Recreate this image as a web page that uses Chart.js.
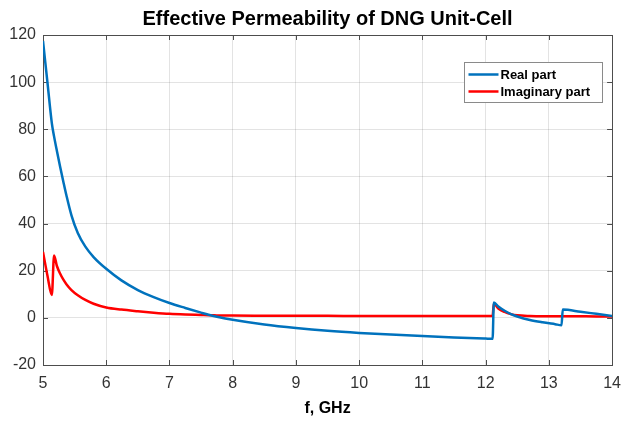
<!DOCTYPE html>
<html>
<head>
<meta charset="utf-8">
<script src="https://cdn.jsdelivr.net/npm/chart.js@4.4.1/dist/chart.umd.min.js"></script>
<style>
  html, body { margin: 0; padding: 0; background: #ffffff; }
  #wrap { width: 630px; height: 424px; position: relative; }
</style>
</head>
<body>
<div id="wrap"><canvas id="c" width="630" height="424"></canvas></div>
<script>
const chartTitle = "Effective Permeability of DNG Unit-Cell";
const xAxisTitle = "f, GHz";
const seriesNames = ["Real part", "Imaginary part"];

const freq = [5, 5.07, 5.14, 5.175, 5.22, 5.27, 5.32, 5.37, 5.45, 5.55, 5.67, 5.8, 6, 6.24, 6.5, 6.75, 7, 7.25, 7.5, 7.62, 7.75, 8, 8.5, 9, 9.5, 10, 10.5, 11, 11.5, 12, 12.11, 12.13, 12.2, 12.3, 12.4, 12.5, 12.7, 12.9, 13.1, 13.2, 13.22, 13.5, 13.75, 14];

const realPart = [117.5, 100, 82.5, 77, 70.8, 64.2, 58, 52, 43.5, 36, 30.2, 25.8, 20.8, 15.9, 11.8, 8.8, 6.3, 4.2, 2.2, 1.3, 0.5, -0.8, -2.8, -4.3, -5.5, -6.4, -7.1, -7.7, -8.3, -8.8, -8.9, 6.5, 4.8, 3, 1.6, 0.6, -0.9, -1.9, -2.7, -3.1, 3.5, 2.6, 1.7, 0.8];

const imagPart = [28, 18, 9.7, 26.5, 22, 18.8, 16.3, 14.3, 11.8, 9.6, 7.6, 6.0, 4.4, 3.5, 2.8, 2.2, 1.7, 1.4, 1.2, 1.1, 1.05, 0.95, 0.9, 0.85, 0.85, 0.8, 0.8, 0.8, 0.8, 0.8, 0.8, 6, 4, 2.5, 1.6, 1.1, 0.8, 0.7, 0.7, 0.7, 0.7, 0.65, 0.6, 0.6];

const xMin = 5, xMax = 14, xStep = 1;
const yMin = -20, yMax = 120, yStep = 20;

const colors = ["#0072BD", "#FF0000"];

function toPoints(ys) { return freq.map((f, i) => ({ x: f, y: ys[i] })); }

const framePlugin = {
  id: 'frame',
  beforeDatasetsDraw(chart) {
    const { ctx, chartArea: a, scales } = chart;
    ctx.save();
    ctx.strokeStyle = '#4d4d4d';
    ctx.lineWidth = 1;
    ctx.strokeRect(Math.round(a.left) + 0.5, Math.round(a.top) + 0.5, Math.round(a.right - a.left), Math.round(a.bottom - a.top));
    const tl = 5;
    ctx.beginPath();
    scales.x.ticks.forEach(t => {
      const px = Math.round(scales.x.getPixelForValue(t.value)) + 0.5;
      ctx.moveTo(px, a.bottom); ctx.lineTo(px, a.bottom - tl);
      ctx.moveTo(px, a.top); ctx.lineTo(px, a.top + tl);
    });
    scales.y.ticks.forEach(t => {
      const py = Math.round(scales.y.getPixelForValue(t.value)) + 0.5;
      ctx.moveTo(a.left, py); ctx.lineTo(a.left + tl, py);
      ctx.moveTo(a.right, py); ctx.lineTo(a.right - tl, py);
    });
    ctx.stroke();
    ctx.restore();
  },
  afterDraw(chart) {
    const { ctx, chartArea: a } = chart;
    ctx.save();
    ctx.fillStyle = '#000';
    ctx.font = 'bold 20px "Liberation Sans", Arial, sans-serif';
    ctx.textAlign = 'center';
    ctx.textBaseline = 'middle';
    ctx.fillText(chartTitle, (a.left + a.right) / 2, 19);
    const bw = 138, bh = 40;
    const bx = Math.round(a.right - 148) + 0.5, by = Math.round(a.top + 27) + 0.5;
    ctx.fillStyle = '#fff';
    ctx.fillRect(bx, by, bw, bh);
    ctx.strokeStyle = '#8a8a8a';
    ctx.lineWidth = 1;
    ctx.strokeRect(bx, by, bw, bh);
    ctx.font = 'bold 13px "Liberation Sans", Arial, sans-serif';
    ctx.textAlign = 'left';
    chart.data.datasets.forEach((ds, i) => {
      const ly = by + 12 + i * 17;
      ctx.strokeStyle = ds.borderColor;
      ctx.lineWidth = 2.5;
      ctx.beginPath();
      ctx.moveTo(bx + 4, ly); ctx.lineTo(bx + 34, ly);
      ctx.stroke();
      ctx.fillStyle = '#000';
      ctx.fillText(ds.label, bx + 36, ly + 1);
    });
    ctx.restore();
  }
};

new Chart(document.getElementById('c'), {
  type: 'line',
  data: {
    datasets: [
      { label: seriesNames[0], data: toPoints(realPart), borderColor: colors[0], backgroundColor: colors[0], borderWidth: 2.5, pointRadius: 0, cubicInterpolationMode: 'monotone', fill: false },
      { label: seriesNames[1], data: toPoints(imagPart), borderColor: colors[1], backgroundColor: colors[1], borderWidth: 2.5, pointRadius: 0, cubicInterpolationMode: 'monotone', fill: false }
    ]
  },
  options: {
    responsive: false,
    animation: false,
    devicePixelRatio: 1,
    layout: { padding: { top: 35, right: 8, bottom: 0, left: 0 } },
    plugins: { legend: { display: false }, title: { display: false }, tooltip: { enabled: false } },
    scales: {
      x: {
        type: 'linear', min: xMin, max: xMax,
        ticks: { stepSize: xStep, color: '#333', padding: 9, font: { size: 16, family: '"Liberation Sans", Arial, sans-serif' }, maxRotation: 0 },
        grid: { color: 'rgba(38,38,38,0.13)', drawTicks: false },
        border: { display: false },
        title: { display: true, text: xAxisTitle, color: '#000', font: { size: 16, weight: 'bold', family: '"Liberation Sans", Arial, sans-serif' }, padding: { top: 0, bottom: 6 } },
        afterFit(s) { s.height = 59; }
      },
      y: {
        type: 'linear', min: yMin, max: yMax,
        ticks: { stepSize: yStep, color: '#333', padding: 7, font: { size: 16, family: '"Liberation Sans", Arial, sans-serif' } },
        grid: { color: 'rgba(38,38,38,0.13)', drawTicks: false },
        border: { display: false },
        afterFit(s) { s.width = 43; }
      }
    }
  },
  plugins: [framePlugin]
});
</script>
</body>
</html>
